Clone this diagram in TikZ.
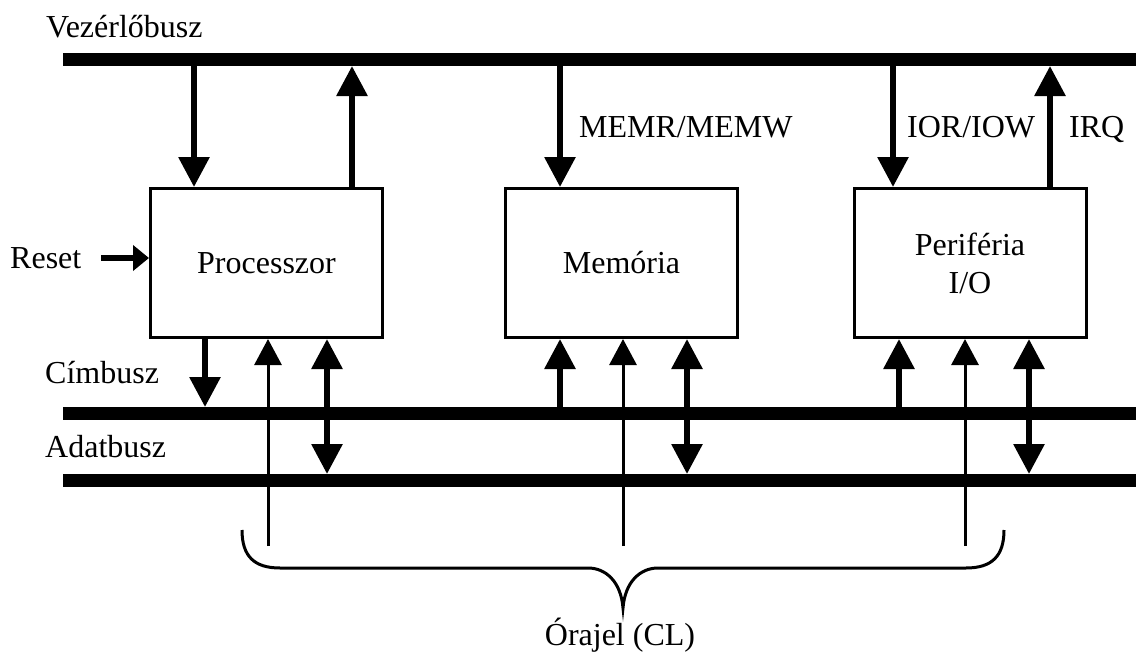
\documentclass[tikz,border=0pt]{standalone}
\usepackage{fontspec}
\setmainfont{Liberation Serif}
\usetikzlibrary{arrows.meta}
\newcommand{\lblfont}{\fontsize{32}{38}\selectfont}
\begin{document}
\begin{tikzpicture}[x=1pt,y=-1pt,
  bus/.style={line width=13pt},
  blk/.style={draw,line width=3pt,minimum width=232pt,minimum height=149pt,inner sep=0pt,align=center,font=\lblfont},
  lbl/.style={inner sep=0pt,font=\lblfont},
  big/.style={line width=6pt,-{Triangle[length=30pt,width=30pt]}},
  bigboth/.style={line width=6pt,{Triangle[length=30pt,width=30pt]}-{Triangle[length=30pt,width=30pt]}},
  clk/.style={line width=3pt,-{Triangle[length=26pt,width=27pt]}},
  rst/.style={line width=6pt,-{Triangle[length=16pt,width=25pt]}},
  brace/.style={line width=3pt}]
\useasboundingbox (0,0) rectangle (1136,656);

% buses
\coordinate (ctrlL) at (63,59.5);  \coordinate (ctrlR) at (1136,59.5);
\coordinate (addrL) at (63,413);   \coordinate (addrR) at (1136,413);
\coordinate (dataL) at (63,480);   \coordinate (dataR) at (1136,480);
\draw[bus] (ctrlL) -- (ctrlR);
\draw[bus] (addrL) -- (addrR);
\draw[bus] (dataL) -- (dataR);
% bus edges where connectors meet them
\coordinate (ctrlB) at (0,66);
\coordinate (addrT) at (0,407);
\coordinate (dataT) at (0,474);
\coordinate (clkE) at (0,546);

\node[lbl,anchor=base west] (vez) at (46,37) {Vezérlőbusz};
\node[lbl,anchor=base west] (cim) at (45,383) {Címbusz};
\node[lbl,anchor=base west] (adat) at (45,457) {Adatbusz};

% units
\node[blk] (proc) at (266.5,263) {Processzor};
\node[blk] (mem) at (621.5,263) {Memória};
\node[blk] (per) at (970,263) {Periféria\\I/O};

% reset input
\node[lbl,anchor=base west] (reset) at (10,268) {Reset};
\coordinate (rstA) at (101,258);
\draw[rst] (rstA) -- (proc.west |- rstA);

% processor connections
\draw[big] (194,0 |- ctrlB) -- (194,0 |- proc.north);
\draw[big] (352,0 |- proc.north) -- (352,0 |- ctrlB);
\draw[big] (205,0 |- proc.south) -- (205,0 |- addrT);
\draw[clk] (268,0 |- clkE) -- (268,0 |- proc.south);
\draw[bigboth] (327,0 |- proc.south) -- (327,0 |- dataT);

% memory connections
\draw[big] (560,0 |- ctrlB) -- (560,0 |- mem.north);
\node[lbl,anchor=base west] (memrw) at (579,137) {MEMR/MEMW};
\draw[big] (560,0 |- addrT) -- (560,0 |- mem.south);
\draw[clk] (623,0 |- clkE) -- (623,0 |- mem.south);
\draw[bigboth] (687,0 |- mem.south) -- (687,0 |- dataT);

% peripheral connections
\draw[big] (893,0 |- ctrlB) -- (893,0 |- per.north);
\node[lbl,anchor=base west] (iorw) at (907,137) {IOR/IOW};
\draw[big] (1050,0 |- per.north) -- (1050,0 |- ctrlB);
\node[lbl,anchor=base west] (irq) at (1069,137) {IRQ};
\draw[big] (899,0 |- addrT) -- (899,0 |- per.south);
\draw[clk] (965,0 |- clkE) -- (965,0 |- per.south);
\draw[bigboth] (1029,0 |- per.south) -- (1029,0 |- dataT);

% clock brace
\draw[brace] (242,530) .. controls (242,556) and (254,568) .. (280,568)
  -- (588,568) .. controls (606,568) and (621,582) .. (623,608)
  .. controls (625,582) and (640,568) .. (658,568)
  -- (966,568) .. controls (992,568) and (1004,556) .. (1004,530);
\node[lbl,anchor=base] (ora) at (620,645) {Órajel (CL)};
\end{tikzpicture}
\end{document}
